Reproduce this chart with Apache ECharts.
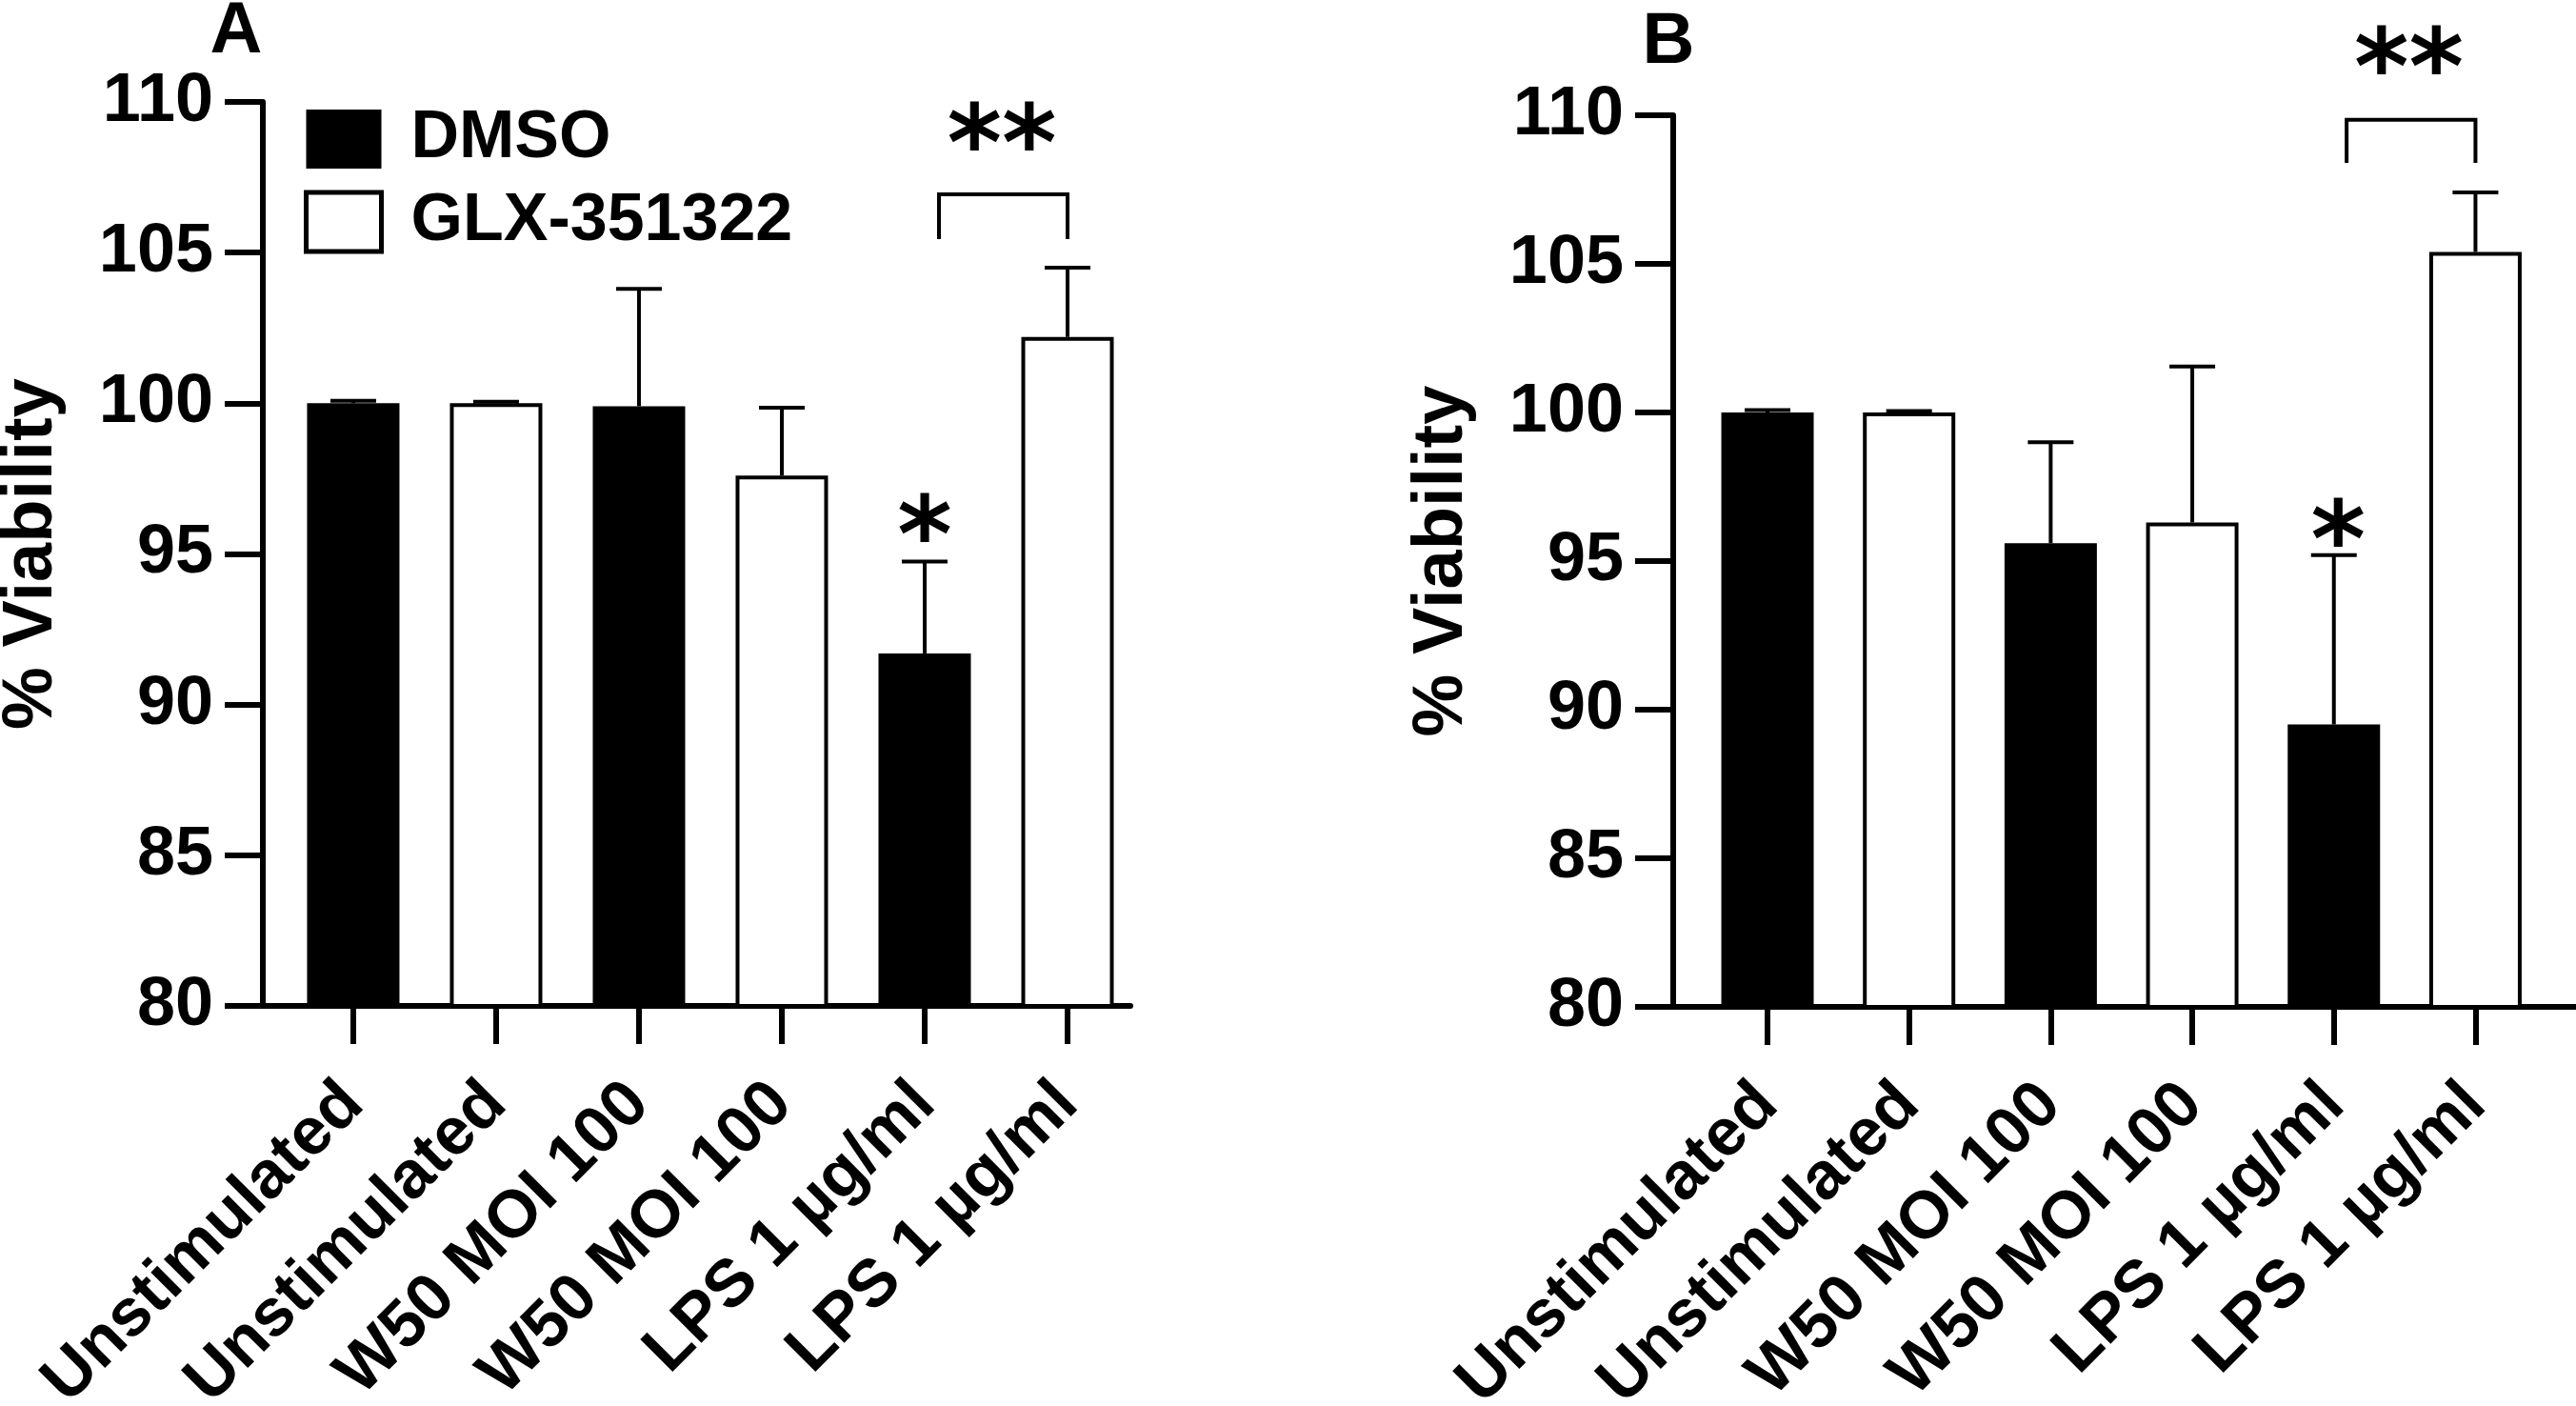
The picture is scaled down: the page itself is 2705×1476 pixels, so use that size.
<!DOCTYPE html>
<html lang="en">
<head>
<meta charset="UTF-8">
<title>% Viability</title>
<script src="https://cdn.jsdelivr.net/npm/echarts@6.0.0/dist/echarts.min.js"></script>
<style>
  html, body { margin: 0; padding: 0; background: #fff; }
  #chart { width: 2705px; height: 1476px; }
</style>
</head>
<body>
<div id="chart"></div>
<script>
  // category labels, same order on both panels
  var categories = ['Unstimulated', 'Unstimulated', 'W50 MOI 100', 'W50 MOI 100', 'LPS 1 µg/ml', 'LPS 1 µg/ml'];
  var catPos = [0, 1, 2, 3, 4, 5];
  var dmsoPos = [0, 2, 4];
  var glxPos = [1, 3, 5];

  // panel A: mean and upper SD
  var dmsoMeanA = [100.0, 99.9, 91.7];
  var dmsoSdA = [0.08, 3.9, 3.05];
  var glxMeanA = [100.0, 97.6, 102.2];
  var glxSdA = [0.05, 2.25, 2.3];

  // panel B
  var dmsoMeanB = [100.0, 95.6, 89.5];
  var dmsoSdB = [0.08, 3.4, 5.7];
  var glxMeanB = [100.0, 96.3, 105.4];
  var glxSdB = [0.05, 5.25, 2.0];

  // significance marks: [x, y, text] and bracket [x1, x2, yTop, yDrop]
  var starsA = [[4, 96.0, '*'], [4.54, 109.0, '**']];
  var bracketA = [[4.1, 5, 106.93, 105.45]];
  var starsB = [[4.03, 96.1, '*'], [4.53, 112.0, '**']];
  var bracketB = [[4.09, 5, 109.85, 108.4]];

  var FONT = '"Liberation Sans", Arial, sans-serif';

  function zip(xs, ys, sds) {
    return xs.map(function (x, i) { return sds ? [x, ys[i], sds[i]] : [x, ys[i]]; });
  }

  // upper error bar with cap
  function errorItem(params, api) {
    var x = api.value(0), m = api.value(1), sd = api.value(2);
    var p0 = api.coord([x, m]);
    var p1 = api.coord([x, m + sd]);
    var st = { stroke: '#000', lineWidth: 4 };
    return {
      type: 'group',
      children: [
        { type: 'line', shape: { x1: p0[0], y1: p0[1], x2: p1[0], y2: p1[1] }, style: st },
        { type: 'line', shape: { x1: p1[0] - 24, y1: p1[1], x2: p1[0] + 24, y2: p1[1] }, style: st }
      ]
    };
  }

  function bracketItem(params, api) {
    var a = api.coord([api.value(0), api.value(3)]);
    var b = api.coord([api.value(0), api.value(2)]);
    var c = api.coord([api.value(1), api.value(2)]);
    var d = api.coord([api.value(1), api.value(3)]);
    return {
      type: 'polyline',
      shape: { points: [a, b, c, d] },
      style: { stroke: '#000', lineWidth: 4, fill: null }
    };
  }

  var starsAll = [starsA, starsB];
  var starIdx = [];

  function starItem(params, api) {
    var p = api.coord([api.value(0), api.value(1)]);
    var t = starsAll[params.seriesIndex === starIdx[0] ? 0 : 1][params.dataIndex][2];
    return {
      type: 'text',
      x: p[0], y: p[1] + 22,
      style: {
        text: t, fill: '#000', align: 'center', verticalAlign: 'middle',
        fontSize: 110, fontWeight: 'bold', fontFamily: '"DejaVu Sans", sans-serif'
      }
    };
  }

  function panel(k, grid, xmin, xmax) {
    var xAxis = {
      type: 'value', gridIndex: k, min: xmin, max: xmax,
      axisLine: { show: true, onZero: false, lineStyle: { color: '#000', width: 6 } },
      axisTick: { show: true, customValues: catPos, length: 40, lineStyle: { color: '#000', width: 6 } },
      axisLabel: {
        customValues: catPos, rotate: 45, margin: 92,
        formatter: function (v) { return categories[Math.round(v)]; },
        fontFamily: FONT, fontWeight: 'bold', fontSize: 70, color: '#000'
      },
      splitLine: { show: false }
    };
    var yAxis = {
      type: 'value', gridIndex: k, min: 80, max: 110, interval: 5,
      name: '% Viability', nameLocation: 'middle', nameGap: 205, nameRotate: 90,
      nameTextStyle: { fontFamily: FONT, fontWeight: 'bold', fontSize: 74, color: '#000' },
      axisLine: { show: true, onZero: false, lineStyle: { color: '#000', width: 6 } },
      axisTick: { show: true, length: 40, lineStyle: { color: '#000', width: 6 } },
      axisLabel: { margin: 52, fontFamily: FONT, fontWeight: 'bold', fontSize: 72, color: '#000' },
      splitLine: { show: false }
    };
    grid.outerBoundsMode = 'none';
    grid.containLabel = false;
    return { grid: grid, xAxis: xAxis, yAxis: yAxis };
  }

  var pA = panel(0, { left: 276, top: 107, width: 911, height: 949 }, -0.633, 5.44);
  var pB = panel(1, { left: 1757, top: 121, width: 948, height: 936 }, -0.666, 5.71);

  var series = [];
  function addPanel(k, dM, dS, gM, gS, stars, bracket) {
    series.push({
      name: 'DMSO', type: 'bar', xAxisIndex: k, yAxisIndex: k,
      data: zip(dmsoPos, dM), barWidth: 97, barGap: '-100%',
      itemStyle: { color: '#000', borderColor: '#000', borderWidth: 4 }
    });
    series.push({
      name: 'GLX-351322', type: 'bar', xAxisIndex: k, yAxisIndex: k,
      data: zip(glxPos, gM), barWidth: 97, barGap: '-100%',
      itemStyle: { color: '#fff', borderColor: '#000', borderWidth: 4 }
    });
    series.push({
      type: 'custom', xAxisIndex: k, yAxisIndex: k, z: 1,
      data: zip(dmsoPos, dM, dS).concat(zip(glxPos, gM, gS)),
      renderItem: errorItem
    });
    series.push({
      type: 'custom', xAxisIndex: k, yAxisIndex: k, clip: false,
      data: bracket, renderItem: bracketItem
    });
    starIdx.push(series.length);
    series.push({
      type: 'custom', xAxisIndex: k, yAxisIndex: k, clip: false,
      data: stars.map(function (s) { return [s[0], s[1]]; }), renderItem: starItem
    });
  }
  addPanel(0, dmsoMeanA, dmsoSdA, glxMeanA, glxSdA, starsA, bracketA);
  addPanel(1, dmsoMeanB, dmsoSdB, glxMeanB, glxSdB, starsB, bracketB);

  var chart = echarts.init(document.getElementById('chart'));
  chart.setOption({
    animation: false,
    backgroundColor: '#fff',
    grid: [pA.grid, pB.grid],
    xAxis: [pA.xAxis, pB.xAxis],
    yAxis: [pA.yAxis, pB.yAxis],
    legend: {
      orient: 'vertical', left: 314, top: 106,
      itemWidth: 79, itemHeight: 62, itemGap: 17, icon: 'rect',
      selectedMode: false,
      data: [
        { name: 'DMSO', itemStyle: { color: '#000', borderWidth: 0 } },
        { name: 'GLX-351322', itemStyle: { color: '#fff', borderColor: '#000', borderWidth: 5 } }
      ],
      textStyle: { fontFamily: FONT, fontWeight: 'bold', fontSize: 70, color: '#000', padding: [0, 0, 0, 26] }
    },
    graphic: [
      { type: 'text', x: 248, y: 34, style: { text: 'A', fontFamily: FONT, fontWeight: 'bold', fontSize: 76, fill: '#000', align: 'center', verticalAlign: 'middle' } },
      { type: 'text', x: 1752, y: 45, style: { text: 'B', fontFamily: FONT, fontWeight: 'bold', fontSize: 76, fill: '#000', align: 'center', verticalAlign: 'middle' } }
    ],
    series: series
  });
</script>
</body>
</html>
